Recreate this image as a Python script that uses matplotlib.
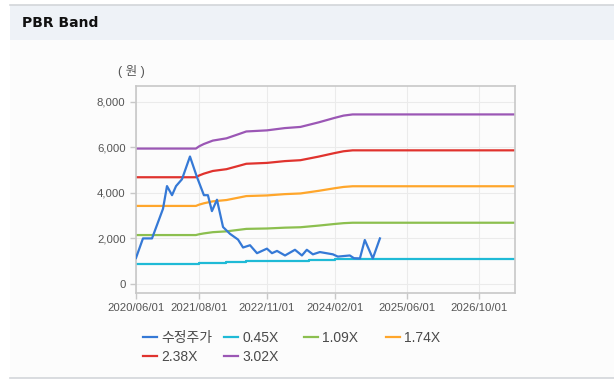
import numpy as np
import pandas as pd
import matplotlib
matplotlib.use('Agg')
import matplotlib.pyplot as plt
from matplotlib.patches import Rectangle
from matplotlib.lines import Line2D

plt.rcParams['font.family'] = ['Liberation Sans', 'Noto Sans CJK KR', 'DejaVu Sans']

# adjusted close price (수정주가)
price_dates = ['2020-06-01', '2020-07-18', '2020-09-17', '2020-11-30', '2020-12-27',
               '2021-01-30', '2021-02-26', '2021-04-07', '2021-05-31', '2021-07-17',
               '2021-09-02', '2021-09-29', '2021-10-26', '2021-11-29', '2022-01-09',
               '2022-02-25', '2022-04-20', '2022-05-24', '2022-07-10', '2022-08-26',
               '2022-11-01', '2022-12-05', '2023-01-08', '2023-03-03', '2023-05-09',
               '2023-06-25', '2023-07-28', '2023-09-07', '2023-10-24', '2024-01-20',
               '2024-02-22', '2024-05-13', '2024-06-10', '2024-07-20', '2024-08-22',
               '2024-10-15', '2024-12-02']
price = [1140, 2000, 2000, 3300, 4300,
         3900, 4300, 4600, 5600, 4700,
         3900, 3900, 3200, 3700, 2500,
         2200, 1950, 1600, 1700, 1350,
         1550, 1350, 1450, 1250, 1500,
         1250, 1500, 1300, 1400, 1300,
         1200, 1250, 1130, 1120, 1930,
         1120, 2000]

# book value per share used for the PBR bands
bps_dates = ['2020-06-01', '2021-07-10', '2021-08-01', '2021-09-01', '2021-11-01',
             '2022-02-01', '2022-05-01', '2022-06-15', '2022-11-01', '2023-03-01',
             '2023-06-15', '2023-08-15', '2023-10-15', '2024-02-01', '2024-04-01',
             '2024-06-01', '2027-06-01']
bps = [1970, 1970, 2003, 2036, 2086,
       2119, 2185, 2219, 2235, 2268,
       2285, 2318, 2351, 2417, 2450,
       2467, 2467]

multiples = [0.45, 1.09, 1.74, 2.38, 3.02]
band_labels = ['0.45X', '1.09X', '1.74X', '2.38X', '3.02X']
band_colors = ['#1fbad6', '#8cbf4f', '#ffa62b', '#e0332e', '#9b57b5']
price_label = '수정주가'
price_color = '#3579d6'

xtick_dates = ['2020/06/01', '2021/08/01', '2022/11/01', '2024/02/01', '2025/06/01', '2026/10/01']
yticks = [0, 2000, 4000, 6000, 8000]

W, H = 614, 382
fig = plt.figure(figsize=(W / 100, H / 100), dpi=100)
fig.patch.set_facecolor('white')

# card background and header strip
fig.add_artist(Rectangle((10 / W, 4 / H), 1, 374 / H, transform=fig.transFigure,
                         facecolor='#fcfcfc', edgecolor='none', zorder=-3))
fig.add_artist(Rectangle((10 / W, 1 - 40 / H), 1, 35 / H, transform=fig.transFigure,
                         facecolor='#eef2f7', edgecolor='none', zorder=-2))
fig.add_artist(Line2D([10 / W, 1], [1 - 5 / H, 1 - 5 / H], color='#d3d6da', lw=1.2))
fig.add_artist(Line2D([10 / W, 1], [1 - 378 / H, 1 - 378 / H], color='#d3d6da', lw=1.2))
fig.text(22 / W, 1 - 23 / H, 'PBR Band', fontsize=10, fontweight='bold',
         family=['DejaVu Sans'], va='center', ha='left', color='#111111')

ax = fig.add_axes([136 / W, 1 - 293 / H, (515 - 136) / W, (293 - 86) / H])
ax.set_facecolor('#fcfcfc')

bd = pd.to_datetime(bps_dates)
bv = np.array(bps, dtype=float)
for m, lab, c in zip(multiples, band_labels, band_colors):
    ax.plot(bd, bv * m, color=c, lw=1.6, label=lab, drawstyle='steps-post' if m == 0.45 else 'default')
ax.plot(pd.to_datetime(price_dates), price, color=price_color, lw=1.6, label=price_label, zorder=5)

ax.set_xlim(pd.Timestamp('2020-06-01'), pd.Timestamp('2027-06-01'))
ax.set_ylim(-400, 8700)
ax.set_yticks(yticks)
ax.set_yticklabels([f'{v:,}' for v in yticks])
ax.set_xticks(pd.to_datetime(xtick_dates))
ax.set_xticklabels(xtick_dates)
ax.tick_params(axis='both', labelsize=8.2, colors='#c8c8c8', labelcolor='#555555',
               length=4, width=1)
ax.grid(True, color='#ebebeb', lw=0.8)
ax.set_axisbelow(True)
for s in ax.spines.values():
    s.set_color('#c8c8c8')
    s.set_linewidth(1.2)

fig.text(131 / W, 1 - 72 / H, '( 원 )', fontsize=9, color='#555555', ha='center', va='center')

# legend in fixed-width columns
handles, labels = ax.get_legend_handles_labels()
order = [5, 0, 1, 2, 3, 4]
items = [(handles[i], labels[i]) for i in order]
cols = [[items[0], items[4]], [items[1], items[5]], [items[2]], [items[3]]]
col_x = [143, 224, 304, 386]
for cx, col in zip(col_x, cols):
    leg = fig.legend([h for h, _ in col], [l for _, l in col], loc='upper left',
                     bbox_to_anchor=(cx / W, 1 - 331 / H), frameon=False, fontsize=10,
                     handlelength=1.0, handletextpad=0.3, labelspacing=0.35,
                     borderpad=0, borderaxespad=0)
    for t in leg.get_texts():
        t.set_color('#4a4a4a')

fig.savefig('out.png', dpi=100, facecolor=fig.get_facecolor())
